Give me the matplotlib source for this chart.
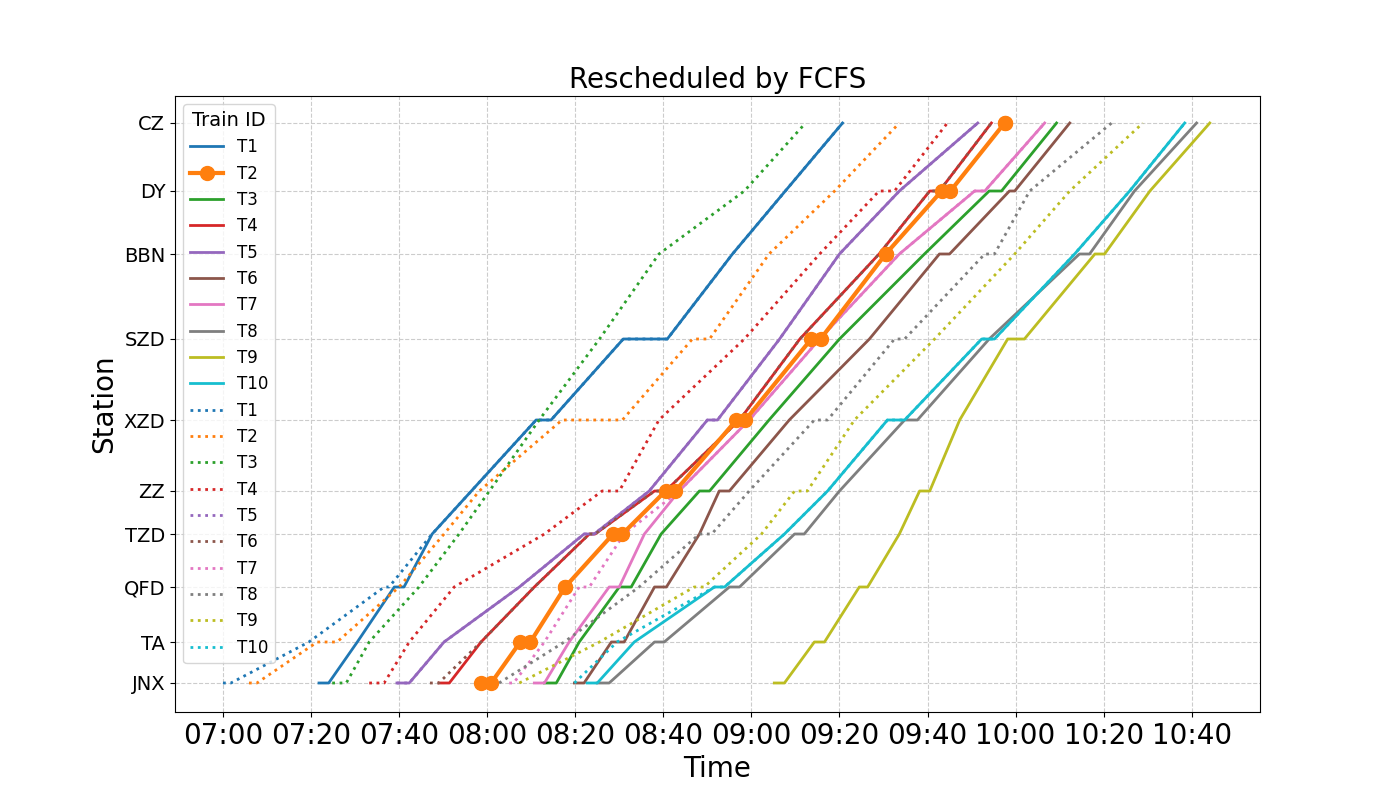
import matplotlib
matplotlib.use("Agg")
import matplotlib.pyplot as plt
import numpy as np

stations = ['JNX', 'TA', 'QFD', 'TZD', 'ZZ', 'XZD', 'SZD', 'BBN', 'DY', 'CZ']
station_pos = [0, 41, 96, 149, 192, 263, 344, 429, 492, 560]

# minutes after 07:00, (arrive, depart) per station
resched = {
    'T1': [(21.8, 24), (30.5, 30.5), (38.9, 41.1), (47.5, 47.5), (56.4, 56.4), (71.1, 74.5), (90.9, 100.9), (115.7, 115.7), (127.7, 127.7), (140.7, 140.7)],
    'T2': [(58.6, 60.9), (67.5, 69.8), (77.7, 77.7), (88.6, 90.7), (100.5, 102.7), (116.6, 118.6), (133.6, 135.7), (150.5, 150.5), (163.2, 165.2), (177.5, 177.5)],
    'T3': [(73, 75.7), (80.9, 80.9), (90, 92.7), (99.5, 99.5), (108.2, 110.5), (124, 124), (140, 140), (159.3, 159.3), (174, 176.8), (189.3, 189.3)],
    'T4': [(49.1, 51.4), (58.6, 58.6), (70.7, 70.7), (83.2, 84.5), (98, 100.5), (117.3, 117.3), (131, 131), (149, 149), (160.5, 162.7), (174.5, 174.5)],
    'T5': [(39.5, 42.3), (50.2, 50.2), (67.3, 67.3), (82, 84.3), (96.8, 96.8), (110, 112.3), (126.4, 126.4), (140, 140), (153.6, 153.6), (171.4, 171.4)],
    'T6': [(79.8, 82), (88.2, 91.1), (98, 100.7), (108.2, 108.2), (112.7, 115), (128.6, 128.6), (146.8, 146.8), (162.7, 165), (178.6, 179.8), (192.3, 192.3)],
    'T7': [(70.7, 73), (78.6, 78.6), (87.7, 90), (95.7, 95.7), (103.6, 103.6), (119.5, 119.5), (135.5, 135.5), (153.6, 153.6), (170.7, 173), (186.6, 186.6)],
    'T8': [(85, 87.7), (98, 100.2), (115, 117.3), (129.8, 132), (140, 140), (154.8, 157.7), (174, 174), (194.5, 196.8), (207, 207), (221.1, 221.1)],
    'T9': [(125.2, 127.5), (134.3, 136.6), (144.5, 146.4), (153.6, 153.6), (158.2, 160.5), (167.3, 167.3), (178.2, 182), (198, 200.2), (210.5, 210.5), (224.1, 224.1)],
    'T10': [(82.7, 85), (93.4, 93.4), (111.6, 113.9), (127.5, 127.5), (137.3, 137.3), (150.9, 154.8), (172.3, 175.2), (193.4, 193.4), (205.9, 205.9), (218.4, 218.4)],
}

original = {
    'T1': [(0, 1.8), (19.5, 19.5), (36.6, 37.7), (47.5, 47.5), (56.4, 56.4), (71.1, 74.5), (90.9, 100.9), (115.7, 115.7), (127.7, 127.7), (140.7, 140.7)],
    'T2': [(5.9, 7.7), (21.4, 25.9), (40, 40), (50.2, 50.2), (58.2, 58.2), (77, 90.7), (106.6, 110.5), (124, 124), (138.9, 138.9), (153.6, 153.6)],
    'T3': [(24.8, 28), (33.2, 33.2), (44.5, 44.5), (53.6, 53.6), (60.5, 60.5), (71.8, 71.8), (85.5, 85.5), (99, 99), (118.4, 118.4), (132.3, 132.3)],
    'T4': [(33.2, 36.6), (42.3, 42.3), (52.5, 52.5), (73, 73), (86.1, 90), (99, 99), (118.4, 118.4), (135.5, 135.5), (149, 152.5), (164.5, 164.5)],
    'T5': [(39.5, 42.3), (50.2, 50.2), (67.3, 67.3), (82, 84.3), (96.8, 96.8), (110, 112.3), (126.4, 126.4), (140, 140), (153.6, 153.6), (171.4, 171.4)],
    'T6': [(47, 49), (58.6, 58.6), (70.7, 70.7), (83.2, 84.5), (98, 100.5), (117.3, 117.3), (131, 131), (149, 149), (160.5, 162.7), (174.5, 174.5)],
    'T7': [(65, 66), (73, 73), (80.9, 83.2), (91.1, 91.1), (103.6, 103.6), (119.5, 119.5), (135.5, 135.5), (153.6, 153.6), (170.7, 173), (186.6, 186.6)],
    'T8': [(62.7, 62.7), (77.5, 77.5), (94.5, 94.5), (108.2, 111), (119.5, 119.5), (134.3, 137.3), (152.5, 154.8), (173, 175.2), (183.2, 183.2), (201.8, 201.8)],
    'T9': [(67.3, 67.3), (85.5, 85.5), (107, 109.3), (122.3, 122.3), (129.8, 132.7), (143.4, 143.4), (161.6, 161.6), (179.8, 179.8), (192.3, 192.3), (208.9, 208.9)],
    'T10': [(79.8, 79.8), (89.5, 89.5), (111.6, 113.9), (127.5, 127.5), (137.3, 137.3), (150.9, 154.8), (172.3, 175.2), (193.4, 193.4), (205.9, 205.9), (218.4, 218.4)],
}

colors = plt.rcParams['axes.prop_cycle'].by_key()['color']


def path(stops):
    xs, ys = [], []
    for (a, d), p in zip(stops, station_pos):
        xs += [a, d]
        ys += [p, p]
    return xs, ys


fig, ax = plt.subplots(figsize=(14, 8), dpi=100)

for i, (tid, stops) in enumerate(resched.items()):
    xs, ys = path(stops)
    if tid == 'T2':
        ax.plot(xs, ys, color=colors[i], lw=3, marker='o', markersize=10, label=tid, zorder=5)
    else:
        ax.plot(xs, ys, color=colors[i], lw=2, label=tid)

for i, (tid, stops) in enumerate(original.items()):
    xs, ys = path(stops)
    ax.plot(xs, ys, color=colors[i], lw=2, ls=':', label=tid)

ax.set_yticks(station_pos)
ax.set_yticklabels(stations, fontsize=14)
ticks = np.arange(0, 221, 20)
ax.set_xticks(ticks)
ax.set_xticklabels(['%02d:%02d' % (7 + t // 60, t % 60) for t in ticks], fontsize=20)
ax.set_xlim(-10.9, 235.5)
ax.set_ylim(-29, 587)
ax.grid(True, color='#cccccc', linestyle='--')
ax.set_xlabel('Time', fontsize=20)
ax.set_ylabel('Station', fontsize=20)
ax.set_title('Rescheduled by FCFS', fontsize=20)
ax.legend(title='Train ID', loc='upper left', fontsize=12, title_fontsize=14)

fig.savefig('out.png')
